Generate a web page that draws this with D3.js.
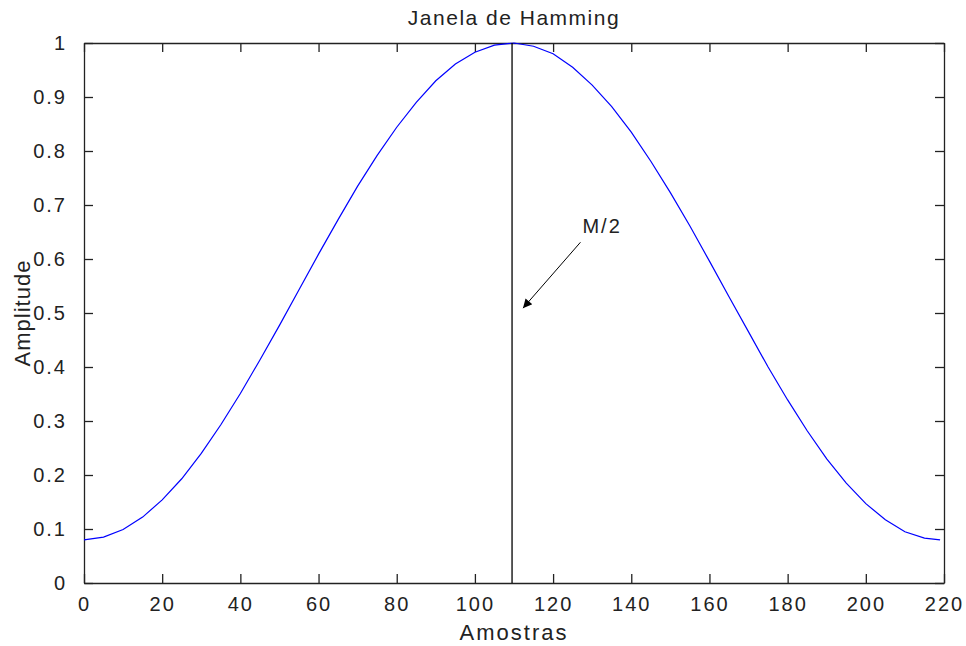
<!DOCTYPE html>
<html>
<head>
<meta charset="utf-8">
<script src="https://cdn.jsdelivr.net/npm/d3@7"></script>
<style>
  body { margin: 0; background: #fff; }
  text { font-family: "Liberation Sans", Arial, sans-serif; fill: #222; }
</style>
</head>
<body>
<div></div>
<script>
const width = 966
const height = 646

// samples of the window
const samples = [0, 5, 10, 15, 20, 25, 30, 35, 40, 45, 50, 55, 60, 65, 70, 75, 80, 85, 90, 95, 100, 105, 110,
    115, 120, 125, 130, 135, 140, 145, 150, 155, 160, 165, 170, 175, 180, 185, 190, 195, 200, 205, 210, 215, 219]
const amplitude = [0.080, 0.085, 0.099, 0.122, 0.154, 0.193, 0.240, 0.293, 0.351, 0.413, 0.477, 0.543, 0.609,
    0.673, 0.735, 0.792, 0.844, 0.890, 0.930, 0.961, 0.983, 0.996, 1.000,
    0.994, 0.980, 0.955, 0.922, 0.882, 0.835, 0.781, 0.723, 0.661, 0.596, 0.530, 0.465, 0.400, 0.339,
    0.282, 0.230, 0.185, 0.147, 0.117, 0.095, 0.083, 0.080]
const xTicks = [0, 20, 40, 60, 80, 100, 120, 140, 160, 180, 200, 220]
const yTicks = [0, 0.1, 0.2, 0.3, 0.4, 0.5, 0.6, 0.7, 0.8, 0.9, 1]
const midSample = 109.5
const arrowFrom = [127, 0.631]
const arrowTo = [112.3, 0.509]
const arrowText = 'M/2'

const margin = { left: 84, right: 22, top: 43, bottom: 63 }

let svg = d3.select('div').append('svg')
    .attr('width', width)
    .attr('height', height)

const x = d3.scaleLinear().domain([0, 220]).range([margin.left, width - margin.right])
const y = d3.scaleLinear().domain([0, 1]).range([height - margin.bottom, margin.top])

const tickLen = 9
const fmt = d => String(d)

// axes, MATLAB style: ticks pointing inward on all four sides
svg.append('g')
    .attr('transform', 'translate(0,' + y(0) + ')')
    .call(d3.axisBottom(x).tickValues(xTicks).tickFormat(fmt).tickSizeInner(-tickLen).tickSizeOuter(0).tickPadding(14))
svg.append('g')
    .attr('transform', 'translate(0,' + y(1) + ')')
    .call(d3.axisTop(x).tickValues(xTicks).tickFormat('').tickSizeInner(-tickLen).tickSizeOuter(0))
svg.append('g')
    .attr('transform', 'translate(' + x(0) + ',0)')
    .call(d3.axisLeft(y).tickValues(yTicks).tickFormat(fmt).tickSizeInner(-tickLen).tickSizeOuter(0).tickPadding(17))
svg.append('g')
    .attr('transform', 'translate(' + x(220) + ',0)')
    .call(d3.axisRight(y).tickValues(yTicks).tickFormat('').tickSizeInner(-tickLen).tickSizeOuter(0))

svg.selectAll('.domain').attr('stroke', '#222').attr('stroke-width', 1.3)
svg.selectAll('.tick line').attr('stroke', '#222').attr('stroke-width', 1.3)
svg.selectAll('.tick text')
    .style('font-family', '"Liberation Sans", Arial, sans-serif')
    .style('font-size', '20px')
    .style('letter-spacing', '2px')
    .attr('fill', '#222')

// window curve
const line = d3.line().x((d, i) => x(samples[i])).y(d => y(d))
svg.append('path')
    .datum(amplitude)
    .attr('d', line)
    .attr('fill', 'none')
    .attr('stroke', '#0000ff')
    .attr('stroke-width', 1.2)

// centre line
svg.append('line')
    .attr('x1', x(midSample)).attr('x2', x(midSample))
    .attr('y1', y(0)).attr('y2', y(1))
    .attr('stroke', '#000')
    .attr('stroke-width', 1.3)

// arrow annotation
svg.append('defs').append('marker')
    .attr('id', 'head')
    .attr('viewBox', '0 0 10 10')
    .attr('refX', 10).attr('refY', 5)
    .attr('markerWidth', 13).attr('markerHeight', 9)
    .attr('markerUnits', 'userSpaceOnUse')
    .attr('orient', 'auto')
    .append('path')
    .attr('d', 'M0,0 L10,5 L0,10 Z')
    .attr('fill', '#000')

svg.append('line')
    .attr('x1', x(arrowFrom[0])).attr('y1', y(arrowFrom[1]))
    .attr('x2', x(arrowTo[0])).attr('y2', y(arrowTo[1]))
    .attr('stroke', '#000')
    .attr('stroke-width', 1)
    .attr('marker-end', 'url(#head)')

svg.append('text')
    .attr('x', x(arrowFrom[0]) + 2)
    .attr('y', y(arrowFrom[1]) - 9)
    .style('font-size', '20px')
    .style('letter-spacing', '2px')
    .text(arrowText)

// titles
svg.append('text')
    .attr('x', (x(0) + x(220)) / 2)
    .attr('y', 25)
    .attr('text-anchor', 'middle')
    .style('font-size', '21px')
    .style('letter-spacing', '1.5px')
    .text('Janela de Hamming')

svg.append('text')
    .attr('x', (x(0) + x(220)) / 2)
    .attr('y', 640)
    .attr('text-anchor', 'middle')
    .style('font-size', '22px')
    .style('letter-spacing', '2px')
    .text('Amostras')

svg.append('text')
    .attr('transform', 'translate(30,' + (y(0) + y(1)) / 2 + ') rotate(-90)')
    .attr('text-anchor', 'middle')
    .style('font-size', '22px')
    .style('letter-spacing', '1px')
    .text('Amplitude')
</script>
</body>
</html>
